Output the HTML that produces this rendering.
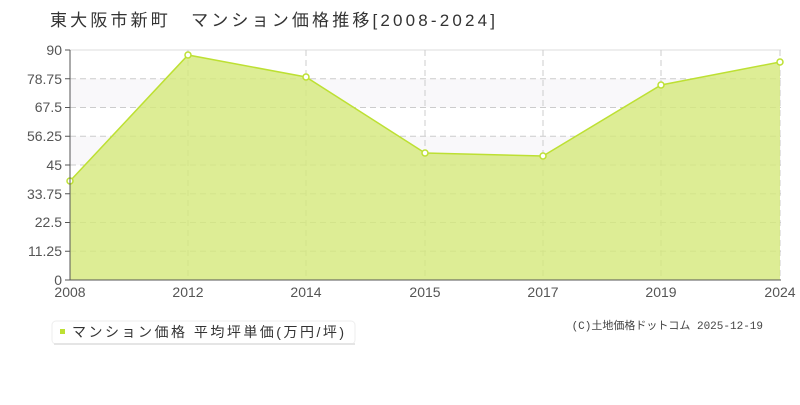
<!DOCTYPE html>
<html><head><meta charset="utf-8"><style>
body{margin:0;background:#fff;width:800px;height:400px;overflow:hidden;font-family:"Liberation Sans","Noto Sans CJK JP",sans-serif;}
</style></head><body>
<svg width="800" height="400" xmlns="http://www.w3.org/2000/svg" font-family="'Liberation Sans','Noto Sans CJK JP',sans-serif">
<text x="50" y="26" font-size="17" fill="#333" textLength="445" lengthAdjust="spacing">東大阪市新町　マンション価格推移[2008-2024]</text>
<rect x="70" y="78.75" width="711" height="28.75" fill="#f9f8fa"/>
<rect x="70" y="136.25" width="711" height="28.75" fill="#f9f8fa"/>
<line x1="70" y1="50" x2="781" y2="50" stroke="#ddd"/>
<g stroke="#ccc" stroke-dasharray="6,4" stroke-width="1">
<line x1="70" y1="78.75" x2="781" y2="78.75"/><line x1="70" y1="107.5" x2="781" y2="107.5"/>
<line x1="70" y1="136.25" x2="781" y2="136.25"/><line x1="70" y1="165" x2="781" y2="165"/>
<line x1="70" y1="193.75" x2="781" y2="193.75"/><line x1="70" y1="222.5" x2="781" y2="222.5"/>
<line x1="70" y1="251.25" x2="781" y2="251.25"/>
<line x1="188" y1="50" x2="188" y2="280"/><line x1="306" y1="50" x2="306" y2="280"/>
<line x1="425" y1="50" x2="425" y2="280"/><line x1="543" y1="50" x2="543" y2="280"/>
<line x1="661" y1="50" x2="661" y2="280"/><line x1="780" y1="50" x2="780" y2="280"/>
</g>
<polygon points="70,280 70,181 188,55 306,77 425,153 543,156 661,85 780,62 780,280" fill="#d4e87a" fill-opacity="0.8"/>
<polyline points="70,181 188,55 306,77 425,153 543,156 661,85 780,62" fill="none" stroke="#bde033" stroke-width="1.5"/>
<g fill="#fff" stroke="#bde033" stroke-width="1.5">
<circle cx="70" cy="181" r="3"/><circle cx="188" cy="55" r="3"/><circle cx="306" cy="77" r="3"/>
<circle cx="425" cy="153" r="3"/><circle cx="543" cy="156" r="3"/><circle cx="661" cy="85" r="3"/><circle cx="780" cy="62" r="3"/>
</g>
<line x1="70" y1="50" x2="70" y2="280" stroke="#555"/>
<line x1="70" y1="280" x2="781" y2="280" stroke="#555"/>
<g stroke="#555">
<line x1="65" y1="50" x2="70" y2="50"/><line x1="65" y1="78.75" x2="70" y2="78.75"/><line x1="65" y1="107.5" x2="70" y2="107.5"/>
<line x1="65" y1="136.25" x2="70" y2="136.25"/><line x1="65" y1="165" x2="70" y2="165"/><line x1="65" y1="193.75" x2="70" y2="193.75"/>
<line x1="65" y1="222.5" x2="70" y2="222.5"/><line x1="65" y1="251.25" x2="70" y2="251.25"/><line x1="65" y1="280" x2="70" y2="280"/>
</g>
<g font-size="14" fill="#555" text-anchor="end">
<text x="62" y="55">90</text><text x="62" y="84">78.75</text><text x="62" y="112">67.5</text>
<text x="62" y="141">56.25</text><text x="62" y="170">45</text><text x="62" y="199">33.75</text>
<text x="62" y="227">22.5</text><text x="62" y="256">11.25</text><text x="62" y="285">0</text>
</g>
<g font-size="14" fill="#555" text-anchor="middle">
<text x="70" y="297">2008</text><text x="188" y="297">2012</text><text x="306" y="297">2014</text>
<text x="425" y="297">2015</text><text x="543" y="297">2017</text><text x="661" y="297">2019</text><text x="780" y="297">2024</text>
</g>
<rect x="52" y="321" width="303" height="23" rx="4" fill="#fff" stroke="#eee"/>
<rect x="54" y="343" width="301" height="2" fill="#e5e5e5"/>
<rect x="60" y="329" width="5" height="5" fill="#bde033"/>
<text x="72" y="337" font-size="14" fill="#333" textLength="272" lengthAdjust="spacing">マンション価格 平均坪単価(万円/坪)</text>
<text x="763" y="329" font-size="11" fill="#444" text-anchor="end" font-family="'Liberation Mono','Noto Sans CJK JP',monospace">(C)土地価格ドットコム 2025-12-19</text>
</svg>
</body></html>
